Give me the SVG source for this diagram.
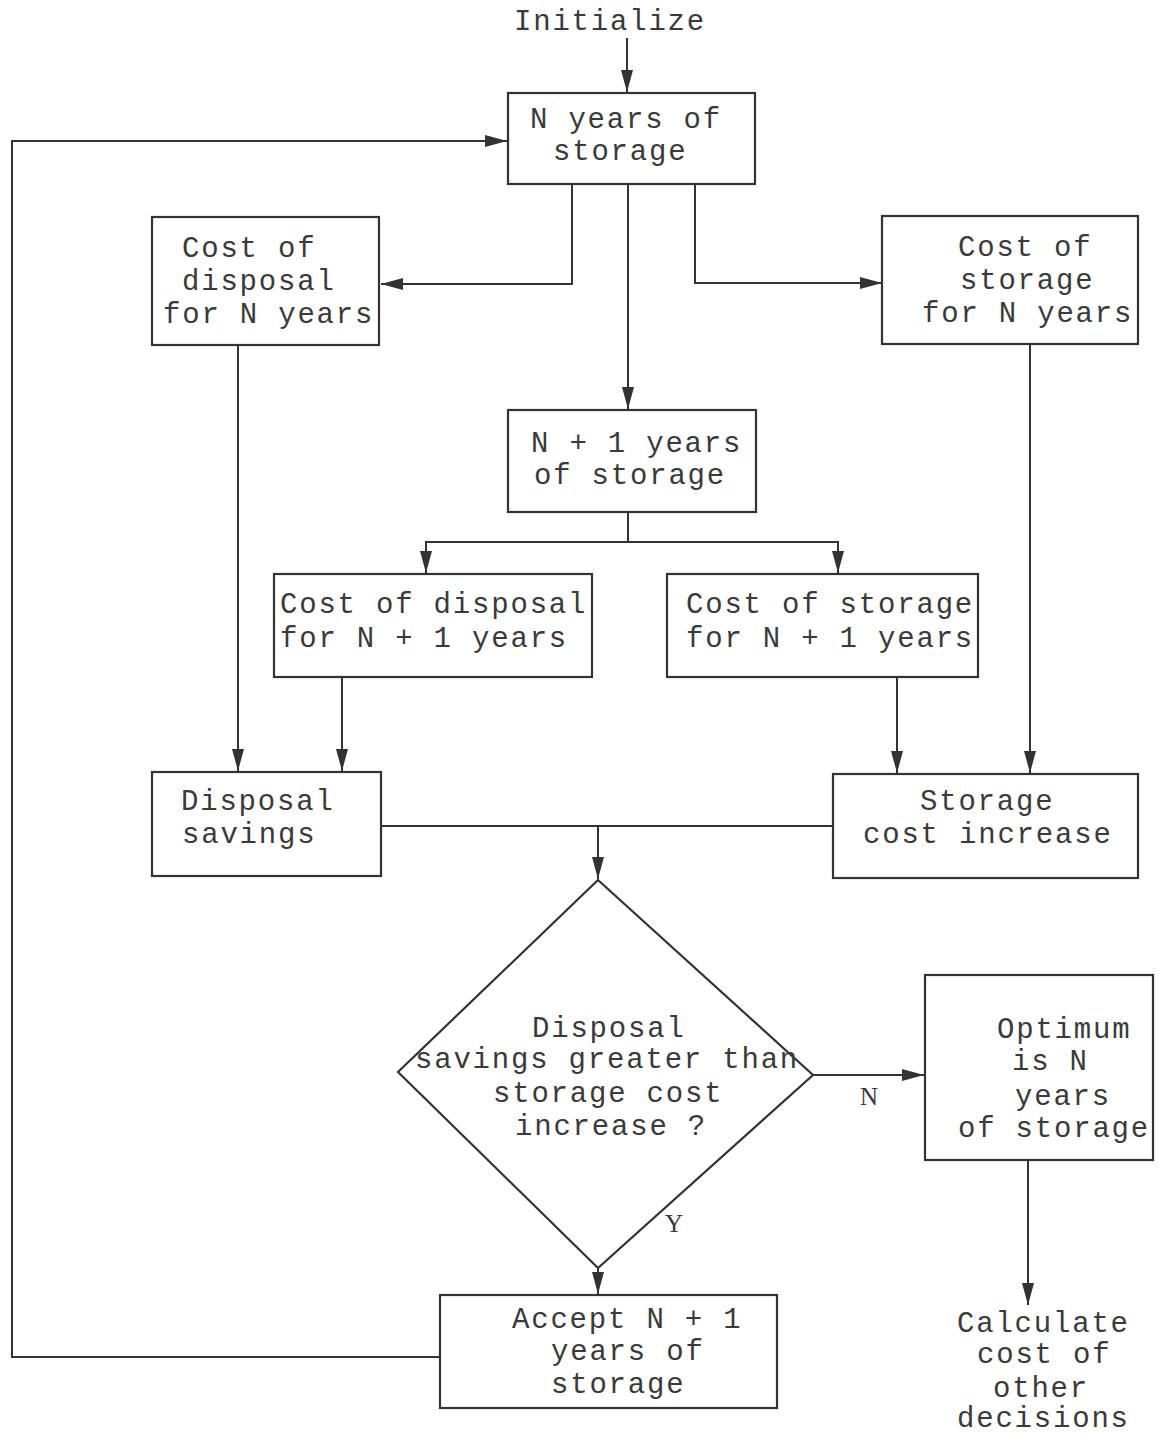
<svg xmlns="http://www.w3.org/2000/svg" width="1159" height="1434" viewBox="0 0 1159 1434">
<style>
.box{fill:#fff;stroke:#333;stroke-width:2.2}
.c{fill:none;stroke:#333;stroke-width:2}
text{font-family:"Liberation Mono","DejaVu Sans Mono",monospace;font-size:29px;letter-spacing:1.8px;fill:#3a3a3a}
.lbl{font-family:"Liberation Serif",serif;font-size:25px;letter-spacing:0}
</style>
<defs>
<marker id="ah" markerUnits="userSpaceOnUse" markerWidth="24" markerHeight="14" refX="22" refY="6" orient="auto">
<path d="M0,0 L22,6 L0,12 z" fill="#333"/>
</marker>
</defs>
<rect width="1159" height="1434" fill="#fff"/>
<g id="connectors">
<path class="c" d="M627,38 V92" marker-end="url(#ah)"/>
<path class="c" d="M572,184 V284 H381" marker-end="url(#ah)"/>
<path class="c" d="M628,184 V409" marker-end="url(#ah)"/>
<path class="c" d="M695,184 V283 H882" marker-end="url(#ah)"/>
<path class="c" d="M238,345 V771" marker-end="url(#ah)"/>
<path class="c" d="M1030,344 V773" marker-end="url(#ah)"/>
<path class="c" d="M628,512 V542 H426 V573" marker-end="url(#ah)"/>
<path class="c" d="M628,542 H838 V573" marker-end="url(#ah)"/>
<path class="c" d="M342,677 V771" marker-end="url(#ah)"/>
<path class="c" d="M897,677 V773" marker-end="url(#ah)"/>
<path class="c" d="M381,826 H833"/>
<path class="c" d="M598,826 V879" marker-end="url(#ah)"/>
<path class="c" d="M813,1075 H924" marker-end="url(#ah)"/>
<path class="c" d="M1028,1160 V1305" marker-end="url(#ah)"/>
<path class="c" d="M598,1268 V1294" marker-end="url(#ah)"/>
<path class="c" d="M440,1357 H12 V141 H507" marker-end="url(#ah)"/>
<text class="lbl" x="860" y="1105">N</text>
<text class="lbl" x="665" y="1232">Y</text>
</g>
<g id="initialize">
<text x="514" y="30">Initialize</text>
</g>
<g id="n-years">
<rect class="box" x="508" y="93" width="247" height="91"/>
<text x="530" y="128">N years of</text>
<text x="553" y="160">storage</text>
</g>
<g id="disposal-n">
<rect class="box" x="152" y="217" width="227" height="128"/>
<text x="182" y="257">Cost of</text>
<text x="182" y="290">disposal</text>
<text x="163" y="323">for N years</text>
</g>
<g id="storage-n">
<rect class="box" x="882" y="216" width="256" height="128"/>
<text x="958" y="256">Cost of</text>
<text x="960" y="289">storage</text>
<text x="922" y="322">for N years</text>
</g>
<g id="n1-years">
<rect class="box" x="508" y="410" width="248" height="102"/>
<text x="531" y="452">N + 1 years</text>
<text x="534" y="484">of storage</text>
</g>
<g id="disposal-n1">
<rect class="box" x="274" y="574" width="318" height="103"/>
<text x="280" y="613">Cost of disposal</text>
<text x="280" y="647">for N + 1 years</text>
</g>
<g id="storage-n1">
<rect class="box" x="667" y="574" width="311" height="103"/>
<text x="686" y="613">Cost of storage</text>
<text x="686" y="647">for N + 1 years</text>
</g>
<g id="disposal-savings">
<rect class="box" x="152" y="772" width="229" height="104"/>
<text x="181" y="810">Disposal</text>
<text x="182" y="843">savings</text>
</g>
<g id="storage-increase">
<rect class="box" x="833" y="774" width="305" height="104"/>
<text x="920" y="810">Storage</text>
<text x="863" y="843">cost increase</text>
</g>
<g id="decision">
<path class="box" d="M598,880 L813,1075 L598,1268 L398,1072 Z"/>
<text x="532" y="1037">Disposal</text>
<text x="415" y="1068">savings greater than</text>
<text x="493" y="1102">storage cost</text>
<text x="515" y="1135">increase ?</text>
</g>
<g id="optimum">
<rect class="box" x="925" y="975" width="228" height="185"/>
<text x="997" y="1038">Optimum</text>
<text x="1012" y="1070">is N</text>
<text x="1015" y="1105">years</text>
<text x="958" y="1137">of storage</text>
</g>
<g id="calculate">
<text x="957" y="1332">Calculate</text>
<text x="977" y="1363">cost of</text>
<text x="993" y="1397">other</text>
<text x="957" y="1427">decisions</text>
</g>
<g id="accept">
<rect class="box" x="440" y="1295" width="337" height="113"/>
<text x="512" y="1328">Accept N + 1</text>
<text x="551" y="1360">years of</text>
<text x="551" y="1393">storage</text>
</g>
</svg>
